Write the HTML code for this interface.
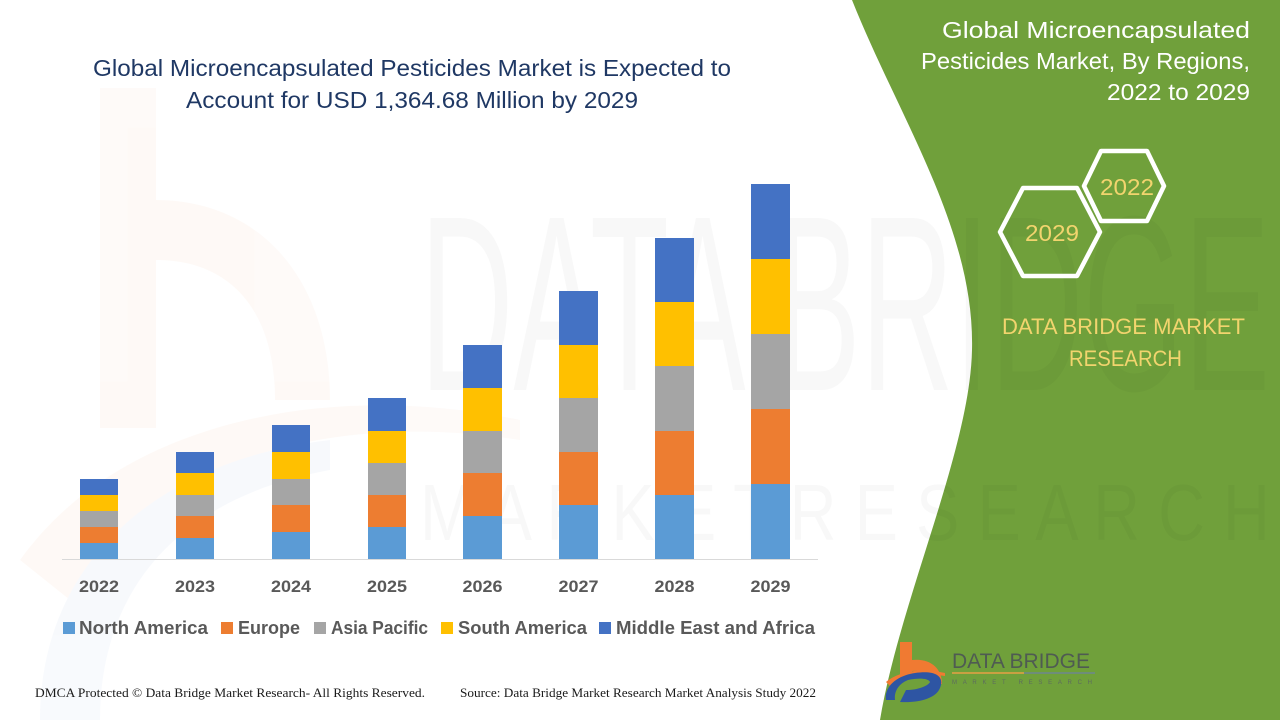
<!DOCTYPE html>
<html>
<head>
<meta charset="utf-8">
<style>
html,body{margin:0;padding:0;background:#fff;}
svg{display:block;}
</style>
</head>
<body>
<svg width="1280" height="720" viewBox="0 0 1280 720" xmlns="http://www.w3.org/2000/svg">
  <rect x="0" y="0" width="1280" height="720" fill="#ffffff"/>

  <!-- faint watermark on left: orange b and blue arc -->
  <g opacity="0.035">
    <rect x="100" y="88" width="56" height="340" fill="#ed7d31"/>
    <path d="M156 200 C 260 200 330 280 330 400 L 275 400 C 275 310 230 260 156 260 Z" fill="#ed7d31"/>
    <path d="M20 560 C 120 420 330 380 520 420 L 520 440 C 330 410 150 460 70 600 Z" fill="#ed7d31"/>
    <path d="M40 720 C 40 560 160 460 330 440 L 330 470 C 190 495 100 580 100 720 Z" fill="#4472c4"/>
  </g>

  <!-- green right panel -->
  <path d="M852,0 C 900,120 975,230 972,350 C 970,450 900,600 880,720 L1280,720 L1280,0 Z" fill="#70a03b"/>

  <!-- faint watermark letters -->
  <g opacity="0.022" font-family="Liberation Sans, sans-serif" fill="#000">
    <text x="420" y="390" font-size="250" textLength="850" lengthAdjust="spacingAndGlyphs">DATA BRIDGE</text>
    <text x="420" y="540" font-size="80" textLength="850" lengthAdjust="spacingAndGlyphs">M A R K E T  R E S E A R C H</text>
  </g>

  <!-- main title -->
  <g font-family="Liberation Sans, sans-serif" font-size="23" fill="#1f3864">
    <text x="93" y="76" textLength="638" lengthAdjust="spacingAndGlyphs">Global Microencapsulated Pesticides Market is Expected to</text>
    <text x="186" y="108" textLength="452" lengthAdjust="spacingAndGlyphs">Account for USD 1,364.68 Million by 2029</text>
  </g>

  <!-- axis line -->
  <line x1="62" y1="559.5" x2="818" y2="559.5" stroke="#d9d9d9" stroke-width="1"/>

  <!-- bars: order bottom->top: NA, EU, AP, SA, MEA -->
  <g>
    <rect x="80" y="543" width="38" height="16" fill="#5b9bd5"/>
    <rect x="80" y="527" width="38" height="16" fill="#ed7d31"/>
    <rect x="80" y="511" width="38" height="16" fill="#a5a5a5"/>
    <rect x="80" y="495" width="38" height="16" fill="#ffc000"/>
    <rect x="80" y="479" width="38" height="16" fill="#4472c4"/>

    <rect x="176" y="538" width="38" height="21" fill="#5b9bd5"/>
    <rect x="176" y="516" width="38" height="22" fill="#ed7d31"/>
    <rect x="176" y="495" width="38" height="21" fill="#a5a5a5"/>
    <rect x="176" y="473" width="38" height="22" fill="#ffc000"/>
    <rect x="176" y="452" width="38" height="21" fill="#4472c4"/>

    <rect x="272" y="532" width="38" height="27" fill="#5b9bd5"/>
    <rect x="272" y="505" width="38" height="27" fill="#ed7d31"/>
    <rect x="272" y="479" width="38" height="26" fill="#a5a5a5"/>
    <rect x="272" y="452" width="38" height="27" fill="#ffc000"/>
    <rect x="272" y="425" width="38" height="27" fill="#4472c4"/>

    <rect x="368" y="527" width="38" height="32" fill="#5b9bd5"/>
    <rect x="368" y="495" width="38" height="32" fill="#ed7d31"/>
    <rect x="368" y="463" width="38" height="32" fill="#a5a5a5"/>
    <rect x="368" y="431" width="38" height="32" fill="#ffc000"/>
    <rect x="368" y="398" width="38" height="33" fill="#4472c4"/>

    <rect x="463" y="516" width="39" height="43" fill="#5b9bd5"/>
    <rect x="463" y="473" width="39" height="43" fill="#ed7d31"/>
    <rect x="463" y="431" width="39" height="42" fill="#a5a5a5"/>
    <rect x="463" y="388" width="39" height="43" fill="#ffc000"/>
    <rect x="463" y="345" width="39" height="43" fill="#4472c4"/>

    <rect x="559" y="505" width="39" height="54" fill="#5b9bd5"/>
    <rect x="559" y="452" width="39" height="53" fill="#ed7d31"/>
    <rect x="559" y="398" width="39" height="54" fill="#a5a5a5"/>
    <rect x="559" y="345" width="39" height="53" fill="#ffc000"/>
    <rect x="559" y="291" width="39" height="54" fill="#4472c4"/>

    <rect x="655" y="495" width="39" height="64" fill="#5b9bd5"/>
    <rect x="655" y="431" width="39" height="64" fill="#ed7d31"/>
    <rect x="655" y="366" width="39" height="65" fill="#a5a5a5"/>
    <rect x="655" y="302" width="39" height="64" fill="#ffc000"/>
    <rect x="655" y="238" width="39" height="64" fill="#4472c4"/>

    <rect x="751" y="484" width="39" height="75" fill="#5b9bd5"/>
    <rect x="751" y="409" width="39" height="75" fill="#ed7d31"/>
    <rect x="751" y="334" width="39" height="75" fill="#a5a5a5"/>
    <rect x="751" y="259" width="39" height="75" fill="#ffc000"/>
    <rect x="751" y="184" width="39" height="75" fill="#4472c4"/>
  </g>

  <!-- year labels -->
  <g font-family="Liberation Sans, sans-serif" font-size="17" font-weight="bold" fill="#595959" text-anchor="middle">
    <text x="99" y="592" textLength="40" lengthAdjust="spacingAndGlyphs">2022</text>
    <text x="195" y="592" textLength="40" lengthAdjust="spacingAndGlyphs">2023</text>
    <text x="291" y="592" textLength="40" lengthAdjust="spacingAndGlyphs">2024</text>
    <text x="387" y="592" textLength="40" lengthAdjust="spacingAndGlyphs">2025</text>
    <text x="482.5" y="592" textLength="40" lengthAdjust="spacingAndGlyphs">2026</text>
    <text x="578.5" y="592" textLength="40" lengthAdjust="spacingAndGlyphs">2027</text>
    <text x="674.5" y="592" textLength="40" lengthAdjust="spacingAndGlyphs">2028</text>
    <text x="770.5" y="592" textLength="40" lengthAdjust="spacingAndGlyphs">2029</text>
  </g>

  <!-- legend -->
  <g>
    <rect x="63" y="622" width="12" height="12" fill="#5b9bd5"/>
    <rect x="221" y="622" width="12" height="12" fill="#ed7d31"/>
    <rect x="314" y="622" width="12" height="12" fill="#a5a5a5"/>
    <rect x="441" y="622" width="12" height="12" fill="#ffc000"/>
    <rect x="599" y="622" width="12" height="12" fill="#4472c4"/>
  </g>
  <g font-family="Liberation Sans, sans-serif" font-size="18" font-weight="bold" fill="#595959">
    <text x="79" y="634" textLength="129" lengthAdjust="spacingAndGlyphs">North America</text>
    <text x="238" y="634" textLength="62" lengthAdjust="spacingAndGlyphs">Europe</text>
    <text x="331" y="634" textLength="97" lengthAdjust="spacingAndGlyphs">Asia Pacific</text>
    <text x="458" y="634" textLength="129" lengthAdjust="spacingAndGlyphs">South America</text>
    <text x="616" y="634" textLength="199" lengthAdjust="spacingAndGlyphs">Middle East and Africa</text>
  </g>

  <!-- footer -->
  <g font-family="Liberation Serif, serif" font-size="12.5" fill="#1a1a1a">
    <text x="35" y="697" textLength="390" lengthAdjust="spacingAndGlyphs">DMCA Protected © Data Bridge Market Research- All Rights Reserved.</text>
    <text x="460" y="697" textLength="356" lengthAdjust="spacingAndGlyphs">Source: Data Bridge Market Research Market Analysis Study 2022</text>
  </g>

  <!-- right title -->
  <g font-family="Liberation Sans, sans-serif" font-size="23" fill="#ffffff" text-anchor="end">
    <text x="1250" y="38" textLength="308" lengthAdjust="spacingAndGlyphs">Global Microencapsulated</text>
    <text x="1250" y="69" textLength="329" lengthAdjust="spacingAndGlyphs">Pesticides Market, By Regions,</text>
    <text x="1250" y="100" textLength="143" lengthAdjust="spacingAndGlyphs">2022 to 2029</text>
  </g>

  <!-- hexagons -->
  <g fill="none" stroke="#ffffff" stroke-width="4.5" stroke-linejoin="round">
    <polygon points="1084,186 1101,151 1147,151 1164,186 1147,221 1101,221"/>
    <polygon points="1000,232 1023,188 1077,188 1100,232 1077,276 1023,276"/>
  </g>
  <g font-family="Liberation Sans, sans-serif" font-size="23" fill="#f2d46e" text-anchor="middle">
    <text x="1127" y="195" textLength="54" lengthAdjust="spacingAndGlyphs">2022</text>
    <text x="1052" y="241" textLength="54" lengthAdjust="spacingAndGlyphs">2029</text>
  </g>

  <!-- DATA BRIDGE MARKET RESEARCH -->
  <g font-family="Liberation Sans, sans-serif" font-size="22" fill="#f2d46e">
    <text x="1002" y="334" textLength="243" lengthAdjust="spacingAndGlyphs">DATA BRIDGE MARKET</text>
    <text x="1069" y="366" textLength="113" lengthAdjust="spacingAndGlyphs">RESEARCH</text>
  </g>

  <!-- logo -->
  <g>
    <rect x="900" y="642" width="12" height="34" fill="#f07a32"/>
    <path d="M912 660 C 930 658 942 668 942 684 L 930 684 C 930 674 922 670 912 671 Z" fill="#f07a32"/>
    <path d="M886 682 C 900 670 925 668 945 673 L 945 676 C 925 673 905 676 890 686 Z" fill="#f07a32"/>
    <path d="M886 700 C 884 688 895 676 915 673 C 935 670 945 676 940 688 C 936 698 920 703 900 702 L 906 690 C 918 690 928 686 930 682 C 928 678 918 678 908 680 C 898 684 894 692 895 700 Z" fill="#2e55a3"/>
    <text x="952" y="668" font-family="Liberation Sans, sans-serif" font-size="21" fill="#4f5b52" textLength="138" lengthAdjust="spacingAndGlyphs">DATA BRIDGE</text>
    <rect x="952" y="672" width="72" height="2" fill="#c9a042"/>
    <rect x="1024" y="672" width="71" height="2" fill="#6e8d7a"/>
    <text x="952" y="684" font-family="Liberation Sans, sans-serif" font-size="6" fill="#5d6b5f" textLength="140" lengthAdjust="spacing">MARKET RESEARCH</text>
  </g>
</svg>
</body>
</html>
